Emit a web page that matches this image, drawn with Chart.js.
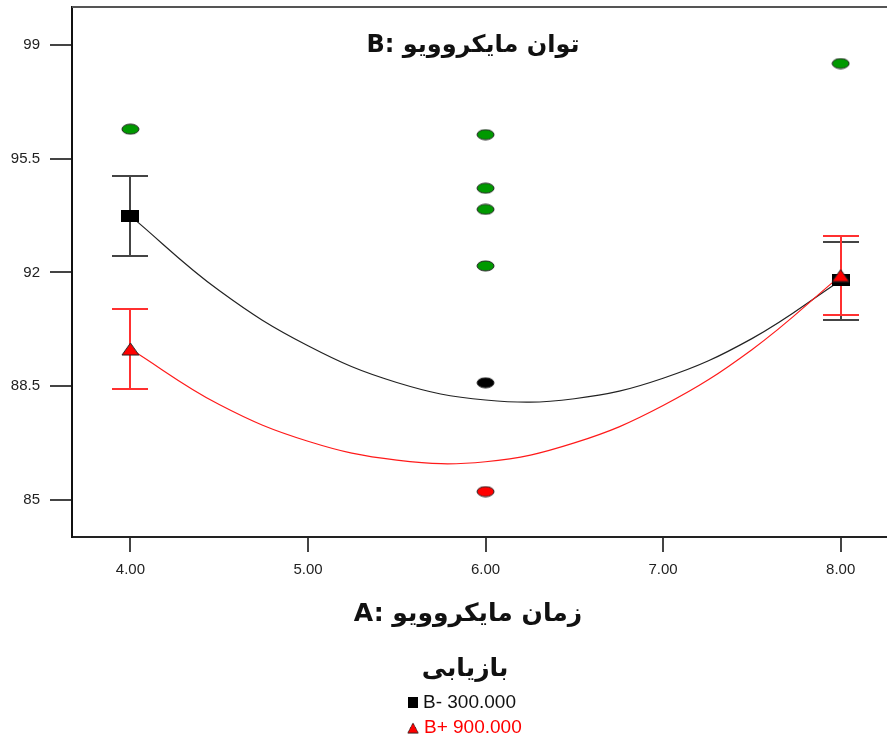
<!DOCTYPE html>
<html>
<head>
<meta charset="utf-8">
<script src="https://cdn.jsdelivr.net/npm/chart.js@4/dist/chart.umd.min.js"></script>
<style>
  html, body { margin: 0; padding: 0; background: #fff; }
  #wrap { position: relative; width: 887px; height: 737px; overflow: hidden; }
  canvas { position: absolute; left: 0; top: 0; }
  .ar { position: absolute; font-family: "DejaVu Sans", sans-serif; font-weight: bold; color: #111; white-space: nowrap; direction: ltr; transform: translate(-50%, -50%); }
  .leg { position: absolute; font-family: "Liberation Sans Narrow", "Liberation Sans", Arial, sans-serif; font-size: 19px; white-space: nowrap; transform: translateY(-50%); }
</style>
</head>
<body>
<div id="wrap">
  <canvas id="c" width="887" height="737"></canvas>
  <div id="title" class="ar" style="left:473px; top:44px; font-size:24px;"></div>
  <div id="xtitle" class="ar" style="left:468px; top:612px; font-size:25px;"></div>
  <div id="legtitle" class="ar" style="left:465px; top:667px; font-size:25px;"></div>
  <div id="leg1" class="leg" style="left:408px; top:702px; color:#111;"></div>
  <div id="leg2" class="leg" style="left:407px; top:727px; color:#ff0000;"></div>
</div>
<script>
// ---- data ----
const chartTitle = "B: توان مایکروویو";
const xAxisTitle = "A: زمان مایکروویو";
const legendTitle = "بازیابی";
const seriesNames = ["B- 300.000", "B+ 900.000"];

const xTicks = [4, 5, 6, 7, 8];
const yTicks = [85, 88.5, 92, 95.5, 99];

const curveX = [4, 4.5, 5, 5.5, 6, 6.5, 7, 7.5, 8];
const blackCurve = [93.74, 91.44, 89.74, 88.61, 88.07, 88.11, 88.74, 89.96, 91.75];
const redCurve = [89.64, 87.93, 86.80, 86.22, 86.17, 86.75, 87.90, 89.62, 91.90];

const meanX = [4, 8];
const blackMean = [93.74, 91.75];
const blackLow = [92.51, 90.52];
const blackHigh = [94.96, 92.95];
const redMean = [89.64, 91.90];
const redLow = [88.42, 90.68];
const redHigh = [90.86, 93.13];

const greenX = [4, 6, 6, 6, 6, 8];
const greenY = [96.41, 96.24, 94.59, 93.94, 92.20, 98.43];
const blackPtX = [6];
const blackPtY = [88.60];
const redPtX = [6];
const redPtY = [85.25];

// ---- marker images ----
function mk(w, h, draw) {
  const c = document.createElement('canvas');
  c.width = w; c.height = h;
  draw(c.getContext('2d'), w, h);
  return c;
}
function ellipse(fill) {
  return mk(19, 12, (g, w, h) => {
    g.beginPath();
    g.ellipse(w / 2, h / 2, w / 2 - 1, h / 2 - 1, 0, 0, Math.PI * 2);
    g.fillStyle = fill; g.fill();
    g.lineWidth = 1; g.strokeStyle = '#222'; g.stroke();
  });
}
const squareImg = mk(18, 12, (g, w, h) => { g.fillStyle = '#000'; g.fillRect(0, 0, w, h); });
const triImg = mk(19, 14, (g, w, h) => {
  g.beginPath(); g.moveTo(w / 2, 1); g.lineTo(w - 1, h - 1); g.lineTo(1, h - 1); g.closePath();
  g.fillStyle = '#ff0000'; g.fill(); g.lineWidth = 1; g.strokeStyle = '#222'; g.stroke();
});
const greenImg = ellipse('#009900');
const blackImg = ellipse('#000000');
const redImg = ellipse('#ff0000');

const pts = (xs, ys) => xs.map((x, i) => ({ x: x, y: ys[i] }));

// ---- error bars & top border ----
const errPlugin = {
  id: 'errbars',
  beforeDatasetsDraw(chart) {
    const xs = chart.scales.x, ys = chart.scales.y, ctx = chart.ctx;
    const sets = [
      { lo: blackLow, hi: blackHigh, color: '#444' },
      { lo: redLow, hi: redHigh, color: '#ff3030' }
    ];
    ctx.save();
    sets.forEach(s => {
      ctx.strokeStyle = s.color; ctx.lineWidth = 2;
      meanX.forEach((x, i) => {
        const px = Math.round(xs.getPixelForValue(x));
        const y1 = Math.round(ys.getPixelForValue(s.lo[i]));
        const y2 = Math.round(ys.getPixelForValue(s.hi[i]));
        ctx.beginPath();
        ctx.moveTo(px, y1); ctx.lineTo(px, y2);
        ctx.moveTo(px - 18, y1); ctx.lineTo(px + 18, y1);
        ctx.moveTo(px - 18, y2); ctx.lineTo(px + 18, y2);
        ctx.stroke();
      });
    });
    ctx.restore();
  },
  afterDraw(chart) {
    const a = chart.chartArea, ctx = chart.ctx;
    ctx.save();
    ctx.strokeStyle = '#555'; ctx.lineWidth = 2;
    ctx.beginPath(); ctx.moveTo(a.left, a.top); ctx.lineTo(chart.width, a.top); ctx.stroke();
    ctx.restore();
  }
};

new Chart(document.getElementById('c'), {
  type: 'scatter',
  data: {
    datasets: [
      { data: pts(meanX, redMean), pointStyle: triImg, pointRadius: 7, showLine: false, order: 0 },
      { data: pts(meanX, blackMean), pointStyle: squareImg, pointRadius: 7, showLine: false, order: 1 },
      { data: pts(greenX, greenY), pointStyle: greenImg, pointRadius: 7, showLine: false, order: 2 },
      { data: pts(blackPtX, blackPtY), pointStyle: blackImg, pointRadius: 7, showLine: false, order: 2 },
      { data: pts(redPtX, redPtY), pointStyle: redImg, pointRadius: 7, showLine: false, order: 2 },
      { data: pts(curveX, redCurve), showLine: true, borderColor: '#ff1a1a', borderWidth: 1.2, pointRadius: 0, tension: 0.4, order: 5 },
      { data: pts(curveX, blackCurve), showLine: true, borderColor: '#222', borderWidth: 1.2, pointRadius: 0, tension: 0.4, order: 6 }
    ]
  },
  options: {
    responsive: false,
    animation: false,
    layout: { autoPadding: false, padding: { top: 7, right: 0, bottom: 159, left: 0 } },
    plugins: { legend: { display: false }, tooltip: { enabled: false }, title: { display: false } },
    scales: {
      x: {
        type: 'linear', min: 3.671, max: 8.261,
        afterBuildTicks: s => { s.ticks = xTicks.map(v => ({ value: v })); },
        afterFit: s => { s.height = 41; s.paddingLeft = 0; s.paddingRight = 0; },
        border: { display: true, color: '#222', width: 2 },
        grid: { display: true, drawOnChartArea: false, drawTicks: true, tickLength: 15, color: '#444', lineWidth: 2 },
        ticks: { color: '#222', font: { family: 'Liberation Sans', size: 15 }, padding: 9, callback: v => Number(v).toFixed(2), maxRotation: 0 }
      },
      y: {
        type: 'linear', min: 83.853, max: 100.17,
        afterBuildTicks: s => { s.ticks = yTicks.map(v => ({ value: v })); },
        afterFit: s => { s.width = 72; s.paddingTop = 0; s.paddingBottom = 0; },
        border: { display: true, color: '#111', width: 2 },
        grid: { display: true, drawOnChartArea: false, drawTicks: true, tickLength: 22, color: '#444', lineWidth: 2 },
        ticks: { color: '#222', font: { family: 'Liberation Sans', size: 15 }, padding: 10, callback: v => String(v) }
      }
    }
  },
  plugins: [errPlugin]
});

// ---- text overlays ----
document.getElementById('title').textContent = chartTitle;
document.getElementById('xtitle').textContent = xAxisTitle;
document.getElementById('legtitle').textContent = legendTitle;
function legItem(id, img, w, h, name) {
  const el = document.getElementById(id);
  const c = document.createElement('canvas');
  c.width = w; c.height = h;
  c.style.cssText = 'position:static;vertical-align:middle;margin-right:5px;';
  c.getContext('2d').drawImage(img, 0, 0, w, h);
  el.appendChild(c);
  el.appendChild(document.createTextNode(name));
}
legItem('leg1', squareImg, 10, 11, seriesNames[0]);
legItem('leg2', triImg, 12, 12, seriesNames[1]);
</script>
</body>
</html>
